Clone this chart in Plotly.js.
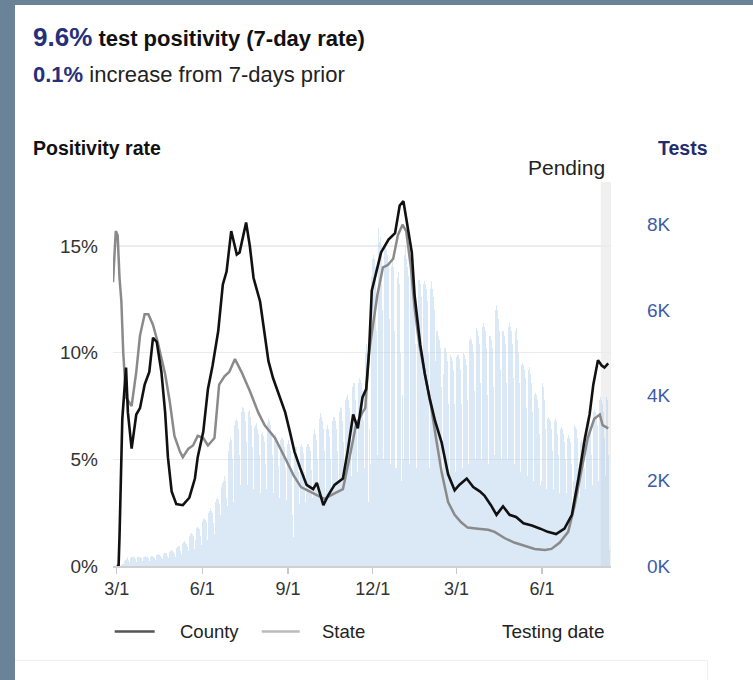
<!DOCTYPE html>
<html><head><meta charset="utf-8">
<script src="https://cdn.plot.ly/plotly-3.0.1.min.js"></script>
<style>
html,body{margin:0;padding:0;width:753px;height:680px;overflow:hidden;background:#6b8399;}
#card{position:absolute;left:15px;top:5px;width:738px;height:675px;background:#fff;overflow:hidden;}
#chart{position:absolute;left:0;top:0;width:738px;height:675px;}
#card2{position:absolute;left:0;top:655px;width:693px;height:40px;border-top:1px solid #eceff4;border-right:1px solid #eceff4;box-sizing:border-box;}
</style></head>
<body><div id="card"><div id="chart"></div><div id="card2"></div></div>
<script>
// ---- data ----
const testsStart = '2020-03-01';
// daily tests (thousands), weeks Sun..Sat
const testsK = [
0,0,0,0,0,0.02,0.04,
0.05,0.12,0.15,0.17,0.18,0.2,0.15,
0.1,0.18,0.2,0.22,0.2,0.21,0.17,
0.1,0.2,0.22,0.2,0.21,0.22,0.18,
0.12,0.2,0.22,0.23,0.22,0.2,0.18,
0.12,0.22,0.24,0.23,0.22,0.21,0.19,
0.14,0.25,0.26,0.27,0.25,0.24,0.21,
0.16,0.28,0.3,0.31,0.3,0.28,0.24,
0.18,0.33,0.36,0.37,0.35,0.33,0.28,
0.22,0.42,0.45,0.47,0.46,0.43,0.36,
0.28,0.52,0.56,0.58,0.55,0.52,0.44,
0.35,0.7,0.75,0.78,0.74,0.7,0.58,
0.4,0.6,0.9,0.92,0.9,0.86,0.7,
0.5,1.05,1.1,1.12,1.08,1.02,0.85,
0.6,1.25,1.3,1.35,1.3,1.25,1.0,
0.75,1.5,1.56,1.6,1.55,1.45,1.2,
0.95,1.85,1.95,2.0,2.1,2.0,1.6,
1.4,2.7,2.9,3.0,2.95,2.5,1.5,
1.6,3.3,3.4,3.45,3.4,3.2,2.6,
1.9,3.6,3.73,3.7,3.6,3.4,2.9,
1.9,3.55,3.6,3.65,3.5,3.3,2.8,
1.8,3.25,3.3,3.35,3.2,3.1,2.6,
1.7,3.05,3.1,3.15,3.05,2.9,2.4,
1.8,3.35,3.45,3.4,3.3,3.1,2.6,
1.7,3.0,3.1,3.1,3.0,2.85,2.35,
1.6,2.95,3.0,3.0,2.95,2.8,2.3,
1.55,2.85,2.9,2.95,2.85,2.7,2.2,
1.2,0.68,2.6,2.8,2.8,2.6,2.2,
1.45,2.8,2.85,2.85,2.8,2.65,2.2,
1.5,2.8,2.87,2.85,2.8,2.7,2.25,
1.6,3.1,3.2,3.19,3.1,2.95,2.5,
1.8,3.45,3.58,3.5,3.4,3.2,2.7,
1.7,3.2,3.3,3.26,3.2,3.05,2.5,
1.8,3.4,3.5,3.5,3.4,3.2,2.7,
1.9,3.6,3.73,3.7,3.6,3.4,2.9,
2.0,3.9,3.97,4.0,3.9,3.7,3.1,
2.1,4.2,4.28,4.3,4.2,3.9,3.3,
2.2,4.3,4.4,4.35,4.3,4.1,3.4,
2.3,5.0,5.2,5.0,1.5,3.5,3.2,
2.4,6.8,7.2,7.3,7.2,7.0,5.5,
2.6,7.92,7.6,7.7,7.5,7.3,6.0,
2.5,7.5,7.6,7.4,7.3,7.0,5.8,
2.4,7.0,7.2,7.0,5.5,2.3,3.5,
2.3,6.75,6.9,6.6,5.0,2.0,4.0,
2.5,7.3,7.5,7.2,7.0,6.8,5.5,
2.4,6.8,6.9,6.8,6.6,6.4,5.2,
2.3,5.2,6.7,6.7,6.6,6.3,5.0,
2.3,6.6,6.67,6.6,6.5,6.2,5.0,
2.3,6.5,6.67,6.5,6.3,6.0,4.8,
2.2,5.5,5.5,5.4,5.3,5.1,4.2,
2.2,4.5,5.1,5.1,5.0,4.8,3.8,
2.2,4.9,4.95,4.9,4.8,4.6,3.8,
2.2,4.9,4.95,4.95,4.85,4.6,3.8,
2.3,4.95,4.99,4.95,4.85,4.7,3.9,
2.4,5.3,5.34,5.3,5.2,5.0,4.1,
2.5,5.5,5.57,5.5,5.4,5.2,4.3,
2.5,5.6,5.69,5.6,5.5,5.1,4.0,
2.4,5.4,5.45,5.4,5.3,5.1,4.2,
2.6,6.0,6.12,6.0,5.8,5.5,4.6,
2.5,5.5,5.61,5.5,5.4,5.2,4.3,
2.5,5.6,5.69,5.6,5.5,5.2,4.4,
2.4,5.5,5.57,5.5,5.3,5.0,4.3,
2.2,4.7,4.75,4.7,4.6,4.4,3.7,
2.1,4.6,4.67,4.6,4.5,4.3,3.6,
2.0,4.0,4.05,4.0,3.9,3.7,3.1,
1.9,2.0,4.28,4.2,4.1,3.9,3.2,
1.8,3.45,3.5,3.45,3.4,3.2,2.7,
1.8,3.4,3.46,3.4,3.3,3.1,2.6,
1.7,3.2,3.26,3.2,3.1,2.9,2.5,
1.7,3.0,3.07,3.0,2.9,2.7,2.4,
1.5,2.0,3.3,3.25,3.2,3.0,2.3,
1.6,2.9,2.95,2.9,2.85,2.7,2.3,
1.8,3.4,3.5,3.45,3.4,3.2,2.6,
1.9,3.6,3.65,3.6,3.5,3.3,2.8,
2.0,3.9,3.97,3.9,3.8,3.6,3.0,
2.1,3.97,3.9,2.6,0.37
];

const countyDates = ['2020-03-01','2020-03-03','2020-03-04','2020-03-07','2020-03-11','2020-03-13','2020-03-17','2020-03-22','2020-03-26','2020-03-31','2020-04-05','2020-04-09','2020-04-13','2020-04-18','2020-04-22','2020-04-25','2020-04-29','2020-05-04','2020-05-11','2020-05-18','2020-05-24','2020-05-27','2020-06-02','2020-06-07','2020-06-12','2020-06-18','2020-06-23','2020-06-27','2020-07-02','2020-07-08','2020-07-11','2020-07-18','2020-07-22','2020-07-26','2020-08-02','2020-08-07','2020-08-11','2020-08-16','2020-08-21','2020-08-29','2020-09-03','2020-09-08','2020-09-14','2020-09-21','2020-09-28','2020-10-02','2020-10-09','2020-10-14','2020-10-21','2020-10-30','2020-11-04','2020-11-10','2020-11-15','2020-11-20','2020-11-24','2020-11-27','2020-11-30','2020-12-05','2020-12-10','2020-12-18','2020-12-25','2020-12-30','2021-01-03','2021-01-06','2021-01-12','2021-01-15','2021-01-21','2021-01-26','2021-01-31','2021-02-06','2021-02-13','2021-02-20','2021-02-27','2021-03-04','2021-03-12','2021-03-19','2021-03-26','2021-03-31','2021-04-07','2021-04-13','2021-04-20','2021-04-27','2021-05-04','2021-05-12','2021-05-21','2021-05-30','2021-06-07','2021-06-16','2021-06-25','2021-07-03','2021-07-10','2021-07-17','2021-07-22','2021-07-26','2021-07-31','2021-08-04','2021-08-07','2021-08-11'];
const countyPct = [0,0,1.4,6.9,9.3,7.2,5.5,7.1,7.4,8.5,9.1,10.7,10.5,9.1,7.2,5.1,3.5,2.9,2.85,3.2,4.1,5.1,6.3,8.3,9.4,11.0,13.2,13.8,15.7,14.6,14.7,16.1,15.0,13.5,12.4,10.8,9.6,8.8,8.2,7.2,6.3,5.35,4.6,3.8,3.6,3.9,2.85,3.3,3.8,4.1,5.35,7.1,6.45,7.9,8.3,10.0,12.9,13.8,14.7,15.3,15.6,16.9,17.1,16.3,14.7,12.7,10.4,9.0,7.9,6.8,5.8,4.3,3.55,3.8,4.1,3.7,3.5,3.3,2.85,2.4,2.8,2.4,2.3,2.0,1.9,1.75,1.6,1.5,1.75,2.4,4.1,6.0,7.1,8.5,9.65,9.4,9.3,9.5];

const stateDates = ['2020-02-26','2020-02-29','2020-03-02','2020-03-04','2020-03-06','2020-03-08','2020-03-11','2020-03-17','2020-03-22','2020-03-26','2020-03-31','2020-04-04','2020-04-09','2020-04-14','2020-04-22','2020-04-27','2020-05-02','2020-05-08','2020-05-11','2020-05-17','2020-05-22','2020-05-27','2020-06-02','2020-06-07','2020-06-14','2020-06-19','2020-06-25','2020-06-30','2020-07-06','2020-07-13','2020-07-22','2020-07-31','2020-08-07','2020-08-18','2020-08-29','2020-09-07','2020-09-15','2020-09-24','2020-10-03','2020-10-10','2020-10-21','2020-10-30','2020-11-06','2020-11-13','2020-11-20','2020-11-23','2020-11-27','2020-12-01','2020-12-06','2020-12-12','2020-12-17','2020-12-23','2020-12-28','2021-01-02','2021-01-06','2021-01-11','2021-01-15','2021-01-20','2021-01-26','2021-02-02','2021-02-07','2021-02-13','2021-02-20','2021-02-27','2021-03-06','2021-03-13','2021-03-24','2021-04-04','2021-04-11','2021-04-22','2021-05-02','2021-05-13','2021-05-24','2021-06-04','2021-06-11','2021-06-20','2021-06-29','2021-07-06','2021-07-13','2021-07-20','2021-07-27','2021-08-02','2021-08-05','2021-08-11'];
const statePct = [13.3,15.7,15.5,13.5,12.4,10.0,7.9,7.5,9.1,10.8,11.8,11.8,11.3,10.5,9.0,7.7,6.1,5.35,5.1,5.5,5.65,6.1,6.0,5.65,6.0,8.5,8.9,9.1,9.7,9.1,8.2,7.2,6.6,6.0,5.05,4.25,3.7,3.5,3.3,3.15,3.4,3.6,5.05,6.6,7.2,7.4,10.0,11.1,12.7,14.0,14.1,14.4,15.5,16.0,15.7,14.0,12.1,10.4,9.0,7.4,6.0,4.4,3.0,2.4,2.05,1.8,1.75,1.7,1.6,1.3,1.1,0.95,0.8,0.75,0.8,1.1,1.6,2.85,4.4,6.0,6.9,7.1,6.6,6.45];

const xTickVals = ['2020-03-01','2020-06-01','2020-09-01','2020-12-01','2021-03-01','2021-06-01'];
const xTickText = ['3/1','6/1','9/1','12/1','3/1','6/1'];
const pctTickVals = [0,5,10,15];
const pctTickText = ['0%','5%','10%','15%'];
const testTickVals = [0,2,4,6,8];
const testTickText = ['0K','2K','4K','6K','8K'];
const xRange = ['2020-02-26','2021-08-14'];
const pendingStart = '2021-08-03';

// ---- daily dates for the bars ----
const testsDates = testsK.map((_, i) => {
  const d = new Date(Date.UTC(2020, 2, 1) + i * 86400000);
  return d.toISOString().slice(0, 10);
});

const FONT = 'Liberation Sans, Arial, sans-serif';

const traces = [
  {type:'bar', x:testsDates, y:testsK, yaxis:'y', marker:{color:'rgba(170,200,232,0.42)', line:{width:0}}, hoverinfo:'skip', showlegend:false},
  {type:'scatter', mode:'lines', x:stateDates, y:statePct, yaxis:'y2', line:{color:'#8a8a8a', width:2.5}, name:'State', showlegend:false},
  {type:'scatter', mode:'lines', x:countyDates, y:countyPct, yaxis:'y2', line:{color:'#111111', width:2.6}, name:'County', showlegend:false}
];

const layout = {
  width:738, height:675,
  margin:{l:98.3, r:141.8, t:177.3, b:114.3},
  paper_bgcolor:'rgba(0,0,0,0)', plot_bgcolor:'rgba(0,0,0,0)',
  bargap:0, showlegend:false, hovermode:false,
  font:{family:FONT, color:'#222'},
  xaxis:{type:'date', range:xRange, tickvals:xTickVals, ticktext:xTickText, ticks:'outside', ticklen:6, tickwidth:1.5, tickcolor:'#c8c8c8',
    showline:true, linecolor:'#d0d0d0', linewidth:1.5, showgrid:false, zeroline:false,
    tickfont:{family:FONT, size:18, color:'#333'}},
  yaxis:{side:'right', range:[0,9], tickvals:testTickVals, ticktext:testTickText, showgrid:false, zeroline:false, showline:false, ticks:'',
    ticklabelstandoff:35, tickfont:{family:FONT, size:19, color:'#3d5ca8'}},
  yaxis2:{overlaying:'y', side:'left', range:[0,18], tickvals:pctTickVals, ticktext:pctTickText, showgrid:true, gridcolor:'#ececec', gridwidth:1.5,
    zeroline:false, showline:false, ticks:'', ticklabelstandoff:14, tickfont:{family:FONT, size:19, color:'#333'}},
  shapes:[
    {type:'rect', xref:'x', yref:'paper', x0:pendingStart, x1:xRange[1], y0:0, y1:1, fillcolor:'#f0f0f0', line:{width:0}, layer:'below'},
    {type:'line', xref:'paper', yref:'paper', x0:0.0034, x1:0.0837, y0:-0.1703, y1:-0.1703, line:{color:'#555', width:2.5}},
    {type:'line', xref:'paper', yref:'paper', x0:0.2987, x1:0.3750, y0:-0.1703, y1:-0.1703, line:{color:'#bbbbbb', width:2.5}}
  ],
  annotations:[
    {xref:'paper', yref:'paper', x:-0.1653, y:1.3764, xanchor:'left', yanchor:'middle', showarrow:false,
      text:"<b><span style='color:#262f7a;font-size:26px'>9.6%</span> test positivity (7-day rate)</b>", font:{size:22, color:'#111'}},
    {xref:'paper', yref:'paper', x:-0.1653, y:1.2799, xanchor:'left', yanchor:'middle', showarrow:false,
      text:"<span style='color:#262f7a'><b>0.1%</b></span> increase from 7-days prior", font:{size:22, color:'#222'}},
    {xref:'paper', yref:'paper', x:-0.1653, y:1.0889, xanchor:'left', yanchor:'middle', showarrow:false,
      text:'<b>Positivity rate</b>', font:{size:19.5, color:'#111'}},
    {xref:'paper', yref:'paper', x:1.1984, y:1.0889, xanchor:'right', yanchor:'middle', showarrow:false,
      text:'<b>Tests</b>', font:{size:19.5, color:'#1f2d6e'}},
    {xref:'paper', yref:'paper', x:0.991, y:1.0373, xanchor:'right', yanchor:'middle', showarrow:false,
      text:'Pending', font:{size:21, color:'#222'}},
    {xref:'paper', yref:'paper', x:0.1299, y:-0.1703, xanchor:'left', yanchor:'middle', showarrow:false,
      text:'County', font:{size:18.5, color:'#222'}},
    {xref:'paper', yref:'paper', x:0.4151, y:-0.1703, xanchor:'left', yanchor:'middle', showarrow:false,
      text:'State', font:{size:18.5, color:'#222'}},
    {xref:'paper', yref:'paper', x:0.9896, y:-0.1703, xanchor:'right', yanchor:'middle', showarrow:false,
      text:'Testing date', font:{size:19, color:'#222'}}
  ]
};

Plotly.newPlot('chart', traces, layout, {displayModeBar:false, staticPlot:true});
</script>
</body></html>
